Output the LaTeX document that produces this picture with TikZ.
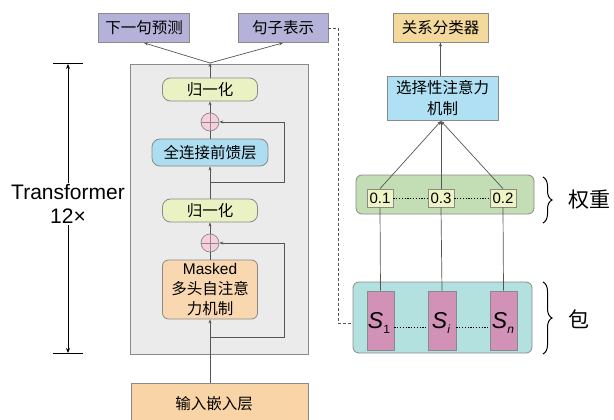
\documentclass[tikz,border=0pt]{standalone}
\usepackage{fontspec}
\setmainfont{Liberation Sans}
\newfontfamily\cjk{Noto Sans CJK SC}
\usetikzlibrary{arrows.meta,decorations.pathreplacing}
\definecolor{bordc}{HTML}{8A8A8A}
\definecolor{lavc}{HTML}{B5B2D9}
\definecolor{greyc}{HTML}{EBEBEB}
\definecolor{normc}{HTML}{EAF2C4}
\definecolor{ffnc}{HTML}{ACDDF1}
\definecolor{maskc}{HTML}{F9D7B0}
\definecolor{inpc}{HTML}{F9D4A6}
\definecolor{clsc}{HTML}{F4D99D}
\definecolor{selc}{HTML}{B0E0F4}
\definecolor{greenc}{HTML}{C3DEB5}
\definecolor{wc}{HTML}{EFF4C4}
\definecolor{tealc}{HTML}{B3E1E0}
\definecolor{pinkc}{HTML}{D292B7}
\definecolor{plusc}{HTML}{F8CFDA}
\definecolor{linec}{HTML}{555555}
\begin{document}
\begin{tikzpicture}[x=1pt,y=-1pt,
  bx/.style={draw=bordc, line width=0.8pt, inner sep=0pt, align=center},
  cn/.style={font=\cjk\fontsize{15.5}{19}\selectfont},
  pill/.style={bx, rounded corners=8pt},
  rbox/.style={bx, rounded corners=6pt},
  arr/.style={draw=linec, line width=0.7pt, -{Stealth[length=4pt,width=3pt]}},
  ln/.style={draw=linec, line width=0.7pt},
  dots/.style={draw=black, line width=1pt, dash pattern=on 1.2pt off 1.6pt},
  dashln/.style={draw=linec, line width=0.6pt, dash pattern=on 3pt off 2pt},
  plus/.style={circle, draw=bordc, fill=plusc, line width=0.7pt, minimum size=18pt, inner sep=0pt,
    path picture={\draw[bordc, line width=0.7pt] (path picture bounding box.north) -- (path picture bounding box.south)
      (path picture bounding box.west) -- (path picture bounding box.east);}},
  brc/.style={decorate, decoration={brace, amplitude=9pt}, draw=black, line width=1pt}
]
\useasboundingbox (0,0) rectangle (614,420);
\clip (0,0) rectangle (614,420);

% left container
\node[bx, fill=greyc, minimum width=178pt, minimum height=290pt] (cont) at (219,209) {};

% top outputs
\node[bx, cn, fill=lavc, minimum width=91pt, minimum height=29pt] (next) at (144,28) {下一句预测};
\node[bx, cn, fill=lavc, minimum width=90pt, minimum height=29pt] (sent) at (283,28) {句子表示};

% inside blocks
\node[pill, cn, fill=normc, minimum width=95pt, minimum height=23pt] (norm2) at (210,89.5) {归一化};
\node[plus] (plus1) at (210,122) {};
\node[pill, cn, fill=ffnc, minimum width=116pt, minimum height=27pt] (ffn) at (210,152.5) {全连接前馈层};
\node[pill, cn, fill=normc, minimum width=95pt, minimum height=23pt] (norm1) at (210,210.5) {归一化};
\node[plus] (plus2) at (210,243) {};
\node[rbox, fill=maskc, minimum width=95pt, minimum height=59pt, font=\fontsize{15.5}{20}\selectfont] (mask) at (210,289.5) {Masked\\{\cjk 多头自注意}\\{\cjk 力机制}};

% input
\node[bx, cn, fill=inpc, minimum width=177pt, minimum height=46pt] (inp) at (219.5,406) {};
\node[cn] (inptxt) at (214,404) {输入嵌入层};

% connectors left
\coordinate (split) at (210,63);
\draw[arr] (norm2.north) -- (split);
\draw[arr] (split) -- (next.south);
\draw[arr] (split) -- (sent.south);
\draw[arr] (plus1.north) -- (norm2.south);
\draw[ln] (ffn.north) -- (plus1.south);
\draw[arr] (norm1.north) -- (ffn.south);
\draw[arr] (plus2.north) -- (norm1.south);
\draw[ln] (mask.north) -- (plus2.south);
\draw[arr] (inp.north -| mask.south) -- (mask.south);
\coordinate (r1a) at (210,182);
\coordinate (r1b) at (284,182);
\draw[arr] (r1a) -- (r1b) |- (plus1.east);
\coordinate (r2a) at (210,337);
\coordinate (r2b) at (284,337);
\draw[arr] (r2a) -- (r2b) |- (plus2.east);

% Transformer label
\node[align=center, font=\fontsize{21}{24}\selectfont, inner sep=1pt] (tf) at (68,204) {Transformer\\12×};
\coordinate (tft) at (68,64);
\coordinate (tfb) at (68,353);
\draw[black, line width=1pt] (53,64) -- (83,64) (53,353) -- (83,353);
\draw[black, line width=0.8pt, -{Stealth[length=5pt,width=4pt]}] (tf.north) -- (tft);
\draw[black, line width=0.8pt, -{Stealth[length=5pt,width=4pt]}] (tf.south) -- (tfb);

% right side
\node[bx, cn, fill=clsc, minimum width=95pt, minimum height=29pt] (cls) at (440.5,27.5) {关系分类器};
\node[bx, cn, fill=selc, minimum width=111pt, minimum height=44pt, font=\cjk\fontsize{15.5}{21}\selectfont] (sel) at (442.5,98) {选择性注意力\\机制};
\draw[arr] (sel.north -| cls.south) -- (cls.south);

\node[rbox, fill=greenc, minimum width=178pt, minimum height=39pt] (wbox) at (445,194.5) {};
\node[bx, fill=wc, line width=0.7pt, minimum width=26pt, minimum height=18pt, font=\fontsize{15}{17}\selectfont] (w1) at (380,198) {0.1};
\node[bx, fill=wc, line width=0.7pt, minimum width=26pt, minimum height=18pt, font=\fontsize{15}{17}\selectfont] (w2) at (441,198) {0.3};
\node[bx, fill=wc, line width=0.7pt, minimum width=26pt, minimum height=18pt, font=\fontsize{15}{17}\selectfont] (w3) at (503,198) {0.2};
\draw[dots] (w1.east) -- (w2.west);
\draw[dots] (w2.east) -- (w3.west);
\coordinate (selin) at (441,121);
\draw[arr] (w1.north) -- (selin);
\draw[arr] (w2.north) -- (selin);
\draw[arr] (w3.north) -- (selin);

\node[rbox, fill=tealc, minimum width=179pt, minimum height=71pt] (bag) at (442.5,317.5) {};
\node[bx, fill=pinkc, line width=0.7pt, minimum width=27pt, minimum height=59pt] (s1) at (380.5,320.5) {};
\node[bx, fill=pinkc, line width=0.7pt, minimum width=28pt, minimum height=59pt] (si) at (442,320.5) {};
\node[bx, fill=pinkc, line width=0.7pt, minimum width=27pt, minimum height=59pt] (sn) at (503.5,320.5) {};
\node[font=\fontsize{23}{26}\selectfont, inner sep=0pt] (s1t) at (379,323) {\textit{S}\raisebox{-5pt}{\fontsize{12}{12}\selectfont 1}};
\node[font=\fontsize{23}{26}\selectfont, inner sep=0pt] (sit) at (441,323) {\textit{S}\raisebox{-5pt}{\fontsize{12}{12}\selectfont\itshape i}};
\node[font=\fontsize{23}{26}\selectfont, inner sep=0pt] (snt) at (503,323) {\textit{S}\raisebox{-5pt}{\fontsize{12}{12}\selectfont\itshape n}};
\draw[dots] ([yshift=-7pt]s1.east) -- ([yshift=-7pt]si.west);
\draw[dots] ([yshift=-7pt]si.east) -- ([yshift=-7pt]sn.west);
\draw[ln] (w1.south) -- (s1.north);
\draw[ln] (w2.south) -- (si.north);
\draw[ln] (w3.south) -- (sn.north);

% dashed connection
\coordinate (dashc) at (338,323);
\draw[dashln] (sent.east) -| (dashc) -- (dashc -| bag.west);

% braces
\coordinate (b1t) at (543,177);
\coordinate (b1b) at (543,223);
\draw[brc] (b1t) -- (b1b);
\node[font=\cjk\fontsize{21}{24}\selectfont, anchor=west, inner sep=0pt] (wl) at (568,200) {权重};
\coordinate (b2t) at (543,282);
\coordinate (b2b) at (543,354);
\draw[brc] (b2t) -- (b2b);
\node[font=\cjk\fontsize{21}{24}\selectfont, anchor=west, inner sep=0pt] (bl) at (568,319) {包};
\end{tikzpicture}
\end{document}
